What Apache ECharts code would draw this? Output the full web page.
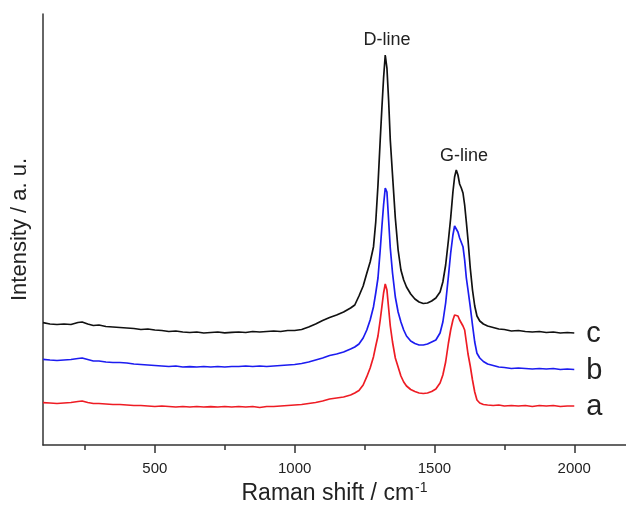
<!DOCTYPE html>
<html>
<head>
<meta charset="utf-8">
<script src="https://cdn.jsdelivr.net/npm/echarts@6/dist/echarts.min.js"></script>
<style>
html,body{margin:0;padding:0;background:#fff;}
#chart{width:626px;height:505px;}
</style>
</head>
<body>
<div id="chart"></div>
<script>
// Raman shift (cm-1)
var wavenumbers = [100,125,150,175,200,225,240,260,280,300,325,350,375,400,425,450,475,500,525,550,575,600,625,650,675,700,725,750,775,800,825,850,875,900,925,950,975,1000,1025,1050,1075,1100,1125,1150,1175,1200,1215,1230,1245,1258,1270,1282,1290,1298,1306,1312,1318,1324,1330,1336,1342,1350,1360,1370,1380,1390,1400,1415,1430,1445,1460,1475,1490,1505,1520,1530,1540,1550,1558,1566,1572,1578,1584,1590,1596,1602,1608,1614,1620,1628,1636,1644,1652,1662,1675,1690,1710,1730,1750,1775,1800,1825,1850,1875,1900,1925,1950,1975,2000];

// Intensity (a. u., curves offset vertically)
var seriesC = [122.3,121,120.5,121,120.5,122.5,123,121,119.5,120,118.5,118,117.5,117,116.5,115.5,116,115,114.5,113.5,114,113,112.5,113,112,112.5,113,112.2,112.7,113,112.5,113.5,113,113.5,114,113.5,114.5,114.5,115.5,118,121,124.5,127.5,130,133,137,140,149,159,171.7,183,198.3,223,260,305,337,367,390,377,345,305,270,227,195,175,165,158,151,146,143,141.5,142,144,147,153,163,180,205,227,253,268,275,270,261,257,252,240,223,205,177,155,139,129,124,121,119,117.5,116,115.5,114,114.5,113.5,113,113.5,112.5,113,112,112.5,112];
var seriesB = [85.7,85,84.5,85,85.5,86.5,87,85.5,84,84,83,82.5,82.5,82,81,80.5,80,79.5,79,78.5,79,78,78.3,78,78.5,78,78.5,78,78.5,78.5,79,78.5,79,78.5,79,79.5,80,80.5,81.5,83,85,87,89.5,91,93,96,98,101,107,115,125,138.3,152,167,195,218.3,240,257,253,225,197,172,148,133,123,115,109,104,101.5,100,100,101,103,105,112,123,142,169,192,210,219,220,213,207,205,198.3,185,167,155,138.3,120,103,91.7,87,83.5,81,79.5,78,77.5,76.5,77,76.5,76,76.5,76,76.5,75.5,76,75.5];
var seriesA = [42.3,42,41.5,42,42.5,43.5,44,42.5,41.5,41.5,41,40.5,40.5,40,39.5,39.5,39,38.5,39,38.5,38,38.5,38,38.5,38,38.3,38,38.5,38,38.5,38,38.5,37.5,38.5,38.5,39,39.5,40,40.5,41.5,42.5,44,46,47,48,50,52,54.5,60,68.3,77,88.3,99,109,125,138.3,152,161,155,137,119,103,87,78,69,63,59,55.5,53.5,52,51.5,52,53.5,56,62,70,83,102,115,125,130,132,129,125,122,119,115,103,91,79,65,53,45,42,40.5,40,39.5,40,39,39.5,39,39.5,38.5,39.5,39,39.5,38.5,39,39];

var seriesNames = ['a','b','c'];
var majorTicks = [500,1000,1500,2000];
var minorTicks = [250,750,1250,1750];

var FONT = 'Liberation Sans, Arial, Helvetica, sans-serif';
var TXT = '#222';

function pairs(vals){ return wavenumbers.map(function(w,i){ return [w, vals[i]]; }); }

function mkSeries(name, vals, color, extra){
  var s = {
    name: name, type: 'line', data: pairs(vals), showSymbol: false, symbol: 'none',
    animation: false, smooth: false,
    lineStyle: {color: color, width: 1.7},
    itemStyle: {color: color},
    endLabel: {show: true, formatter: name, color: TXT, fontSize: 29, fontFamily: FONT, distance: 12, offset: [0, 1]}
  };
  if (extra) for (var k in extra) s[k] = extra[k];
  return s;
}

var chart = echarts.init(document.getElementById('chart'), null, {renderer: 'canvas'});
chart.setOption({
  animation: false,
  backgroundColor: '#fff',
  grid: {left: 43, right: 0, top: 14, bottom: 60, containLabel: false, outerBoundsMode: 'none'},
  xAxis: [{
    type: 'value', min: 100, max: 2185, position: 'bottom',
    axisLine: {show: true, onZero: false, lineStyle: {color: '#333', width: 1.5}},
    axisTick: {show: true, inside: false, length: 8, customValues: majorTicks, lineStyle: {color: '#333', width: 1.5}},
    axisLabel: {show: true, customValues: majorTicks, margin: 16, color: TXT, fontSize: 15, fontFamily: FONT,
      formatter: function(v){ return String(v); }},
    splitLine: {show: false},
    name: '{n|Raman shift / cm}{s|-1}',
    nameLocation: 'middle', nameGap: 30,
    nameTextStyle: {
      rich: {
        n: {fontSize: 23, lineHeight: 24, fontFamily: FONT, color: TXT, verticalAlign: 'bottom'},
        s: {fontSize: 14, lineHeight: 14, fontFamily: FONT, color: TXT, verticalAlign: 'top', padding: [0,0,18,1]}
      }
    }
  },{
    type: 'value', min: 100, max: 2185, position: 'bottom', offset: 0,
    axisLine: {show: false},
    axisTick: {show: true, length: 5, customValues: minorTicks, lineStyle: {color: '#333', width: 1.5}},
    axisLabel: {show: false},
    splitLine: {show: false}
  }],
  yAxis: {
    type: 'value', min: 0, max: 431,
    axisLine: {show: true, onZero: false, lineStyle: {color: '#333', width: 1.5}},
    axisTick: {show: false}, axisLabel: {show: false}, splitLine: {show: false},
    name: 'Intensity / a. u.', nameLocation: 'middle', nameGap: 12, nameRotate: 90,
    nameTextStyle: {fontSize: 22, fontFamily: FONT, color: TXT}
  },
  series: [
    mkSeries('a', seriesA, '#ee1c24'),
    mkSeries('b', seriesB, '#1c1cf0'),
    mkSeries('c', seriesC, '#111111', {
      markPoint: {
        symbol: 'rect', symbolSize: 1, silent: true,
        itemStyle: {color: 'rgba(0,0,0,0)'},
        label: {show: true, position: 'inside', color: TXT, fontSize: 18, fontFamily: FONT},
        data: [
          {coord: [1330, 405], value: 'D-line', label: {formatter: 'D-line'}},
          {coord: [1606, 289], value: 'G-line', label: {formatter: 'G-line'}}
        ]
      }
    })
  ]
});
</script>
</body>
</html>
